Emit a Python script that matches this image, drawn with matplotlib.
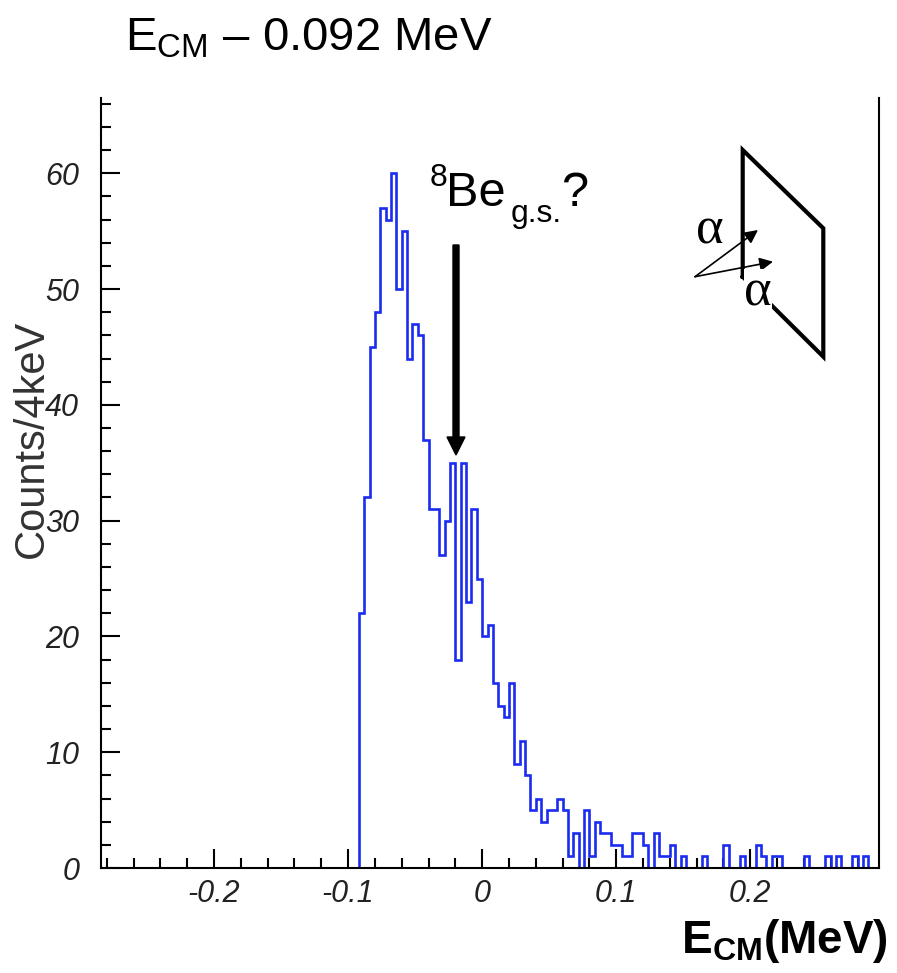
import matplotlib
matplotlib.use("Agg")
import matplotlib.pyplot as plt
import numpy as np
from matplotlib.ticker import MultipleLocator, FuncFormatter

plt.rcParams["font.family"] = ["Liberation Sans", "DejaVu Sans"]
plt.rcParams["mathtext.fontset"] = "custom"
plt.rcParams["mathtext.rm"] = "Liberation Sans"
plt.rcParams["mathtext.it"] = "Liberation Sans:italic"
plt.rcParams["mathtext.bf"] = "Liberation Sans:bold"
plt.rcParams["mathtext.default"] = "regular"
plt.rcParams["axes.unicode_minus"] = False

# ── Datos: cuentas por bin de 4 keV, primer borde en -0.092 MeV ─────────────
BIN_WIDTH = 0.004
FIRST_EDGE = -0.092
COUNTS = [22, 32, 45, 48, 57, 56, 60, 50, 55, 44,
          47, 46, 37, 31, 31, 27, 30, 35, 18, 35,
          23, 31, 25, 20, 21, 16, 14, 13, 16, 9,
          11, 8, 5, 6, 4, 5, 5, 6, 5, 1,
          3, 0, 5, 1, 4, 3, 3, 2, 2, 1,
          1, 3, 3, 2, 0, 3, 1, 1, 2, 0,
          1, 0, 0, 0, 1, 0, 0, 0, 2, 0,
          0, 1, 0, 0, 2, 1, 0, 1, 1, 0,
          0, 0, 0, 1, 0, 0, 0, 1, 0, 1,
          0, 0, 1, 0, 1, 0, 0]
X_RANGE = (-0.284, 0.296)
Y_RANGE = (0, 66.5)
X_TICKS = [-0.2, -0.1, 0, 0.1, 0.2]
Y_TICKS = [0, 10, 20, 30, 40, 50, 60]

edges = FIRST_EDGE + BIN_WIDTH * np.arange(len(COUNTS) + 1)

W, H = 897, 973
fig = plt.figure(figsize=(W / 100, H / 100), dpi=100)
fig.patch.set_facecolor("white")

# ── Histograma ───────────────────────────────────────────────────────────────
ax = fig.add_axes([101.4 / W, 105 / H, 777.6 / W, 770 / H])
ax.stairs(COUNTS, edges, color="#1a2cf0", lw=1.9, zorder=2)
ax.set_xlim(*X_RANGE)
ax.set_ylim(*Y_RANGE)

ax.spines["top"].set_visible(False)
for s in ("left", "bottom", "right"):
    ax.spines[s].set_linewidth(1.5)
    ax.spines[s].set_zorder(3)

ax.set_xticks(X_TICKS)
ax.set_yticks(Y_TICKS)
ax.xaxis.set_minor_locator(MultipleLocator(0.02))
ax.yaxis.set_minor_locator(MultipleLocator(2))
ax.xaxis.set_major_formatter(FuncFormatter(lambda v, p: f"{v:g}"))
ax.tick_params(which="major", direction="in", length=14, width=1.5,
               top=False, right=False, labelsize=22, labelcolor="#222222")
ax.tick_params(which="minor", direction="in", length=7, width=1.5,
               top=False, right=False)
ax.tick_params(axis="x", pad=8)
ax.tick_params(axis="y", pad=16)
for lab in ax.get_xticklabels() + ax.get_yticklabels():
    lab.set_fontstyle("italic")

ax.set_ylabel("Counts/4keV", fontsize=30, color="#333333")
ax.yaxis.set_label_coords(-0.064, 0.557)

# ── Capa de anotaciones en pixeles ──────────────────────────────────────────
ov = fig.add_axes([0, 0, 1, 1], zorder=5)
ov.set_xlim(0, W)
ov.set_ylim(H, 0)
ov.axis("off")
ov.patch.set_alpha(0)

ov.text(125, 50, "E$_{CM}$ – 0.092 MeV", fontsize=34, ha="left", va="baseline")

# 8Be g.s.? por piezas (mathtext mete espacios tras los puntos)
ov.text(430, 186, "8", fontsize=23, ha="left", va="baseline")
ov.text(446, 206, "Be", fontsize=35, ha="left", va="baseline")
ov.text(511, 222, "g.s.", fontsize=23, ha="left", va="baseline")
ov.text(561, 206, "?", fontsize=35, ha="left", va="baseline")
ov.arrow(456, 245, 0, 210, width=6, head_width=18, head_length=18,
         length_includes_head=True, color="black")

ov.text(888, 953, "E$_{CM}$(MeV)", fontsize=33, fontweight="bold",
        ha="right", va="baseline")

# detector (paralelogramo) y dos alfas
ov.plot([742.7, 742.7, 823.3, 823.3, 742.7],
        [276.7, 150, 228.3, 356.7, 276.7], color="black", lw=3,
        solid_joinstyle="miter")
for tip in [(758, 230), (773, 261.7)]:
    ov.annotate("", xy=tip, xytext=(695, 276.7),
                arrowprops=dict(arrowstyle="-|>", color="black", lw=1.2,
                                mutation_scale=20, shrinkA=0, shrinkB=0))
ov.text(710, 230, "α", fontsize=38, family="Liberation Serif",
        ha="center", va="center")
ov.text(758, 293, "α", fontsize=38, family="Liberation Serif",
        ha="center", va="center",
        bbox=dict(boxstyle="square,pad=0.0", fc="white", ec="none"))

fig.savefig("out.png", dpi=100, facecolor="white")
